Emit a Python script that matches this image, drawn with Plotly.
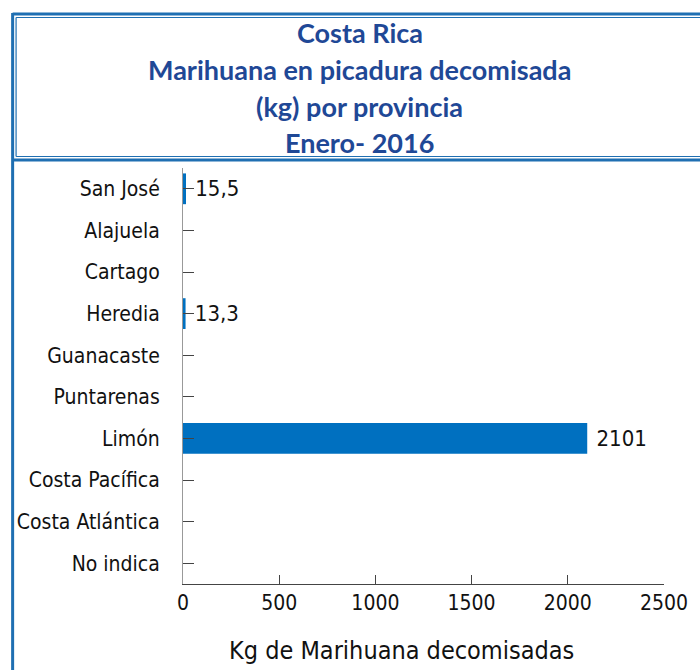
import plotly.graph_objects as go

provincias = ["San José", "Alajuela", "Cartago", "Heredia", "Guanacaste",
              "Puntarenas", "Limón", "Costa Pacífica", "Costa Atlántica", "No indica"]
kilos = [15.5, 0, 0, 13.3, 0, 0, 2101, 0, 0, 0]
etiquetas = ["15,5", "", "", "13,3", "", "", "2101", "", "", ""]
x_ticks = [0, 500, 1000, 1500, 2000, 2500]

W, H = 700, 670
L, R, T, B = 183, 30, 168, 86
PW, PH = W - L - R, H - T - B

def px(x):
    return (x - L) / PW

def py(y):
    return 1 - (y - T) / PH

FONT = "DejaVu Sans Condensed, Liberation Sans Narrow, sans-serif"
TITLE_FONT = "Lato, Open Sans, sans-serif"
BLUE = "#1f6fb2"
TITLE_BLUE = "#1f4896"

fig = go.Figure(go.Bar(
    x=kilos, y=provincias, orientation="h",
    marker=dict(color="#0070c0", line=dict(width=0)),
    text=[(" " + t) if t else "" for t in etiquetas],
    textposition="outside", cliponaxis=False,
    textfont=dict(family=FONT, size=22, color="#111"),
    width=0.74,
))

fig.update_layout(
    width=W, height=H,
    margin=dict(l=L, r=R, t=T, b=B),
    paper_bgcolor="white", plot_bgcolor="white",
    showlegend=False,
    xaxis=dict(range=[0, 2500], tickvals=x_ticks, ticks="inside", ticklen=9,
               tickcolor="#444", tickwidth=1, showline=True, linecolor="#444",
               linewidth=1, showgrid=False, zeroline=False,
               tickfont=dict(family=FONT, size=21, color="#111")),
    yaxis=dict(autorange="reversed", ticks="inside", ticklen=11, tickcolor="#444",
               tickwidth=1, showline=True, linecolor="#999", linewidth=1,
               showgrid=False, ticklabelstandoff=18,
               tickfont=dict(family=FONT, size=21, color="#111")),
)

titles = [("Costa Rica", 33), ("Marihuana en picadura decomisada", 70),
          ("(kg) por provincia", 106), ("Enero- 2016", 142)]
for txt, y in titles:
    fig.add_annotation(text="<b>" + txt + "</b>", xref="paper", yref="paper",
                       x=px(362), y=py(y), xanchor="center", yanchor="middle",
                       showarrow=False, borderpad=0,
                       font=dict(family=TITLE_FONT, size=27, color=TITLE_BLUE))

fig.add_annotation(text="Kg de Marihuana decomisadas", xref="paper", yref="paper",
                   x=px(404), y=py(650), xanchor="center", yanchor="middle",
                   showarrow=False, font=dict(family=FONT, size=25, color="#111"))

shapes = [
    dict(type="line", x0=px(10.5), x1=px(720), y0=py(14), y1=py(14), line=dict(color=BLUE, width=3)),
    dict(type="line", x0=px(10.5), x1=px(10.5), y0=py(13), y1=py(680), line=dict(color=BLUE, width=3)),
    dict(type="line", x0=px(10.5), x1=px(720), y0=py(160), y1=py(160), line=dict(color=BLUE, width=3)),
    dict(type="line", x0=px(14), x1=px(720), y0=py(17.5), y1=py(17.5), line=dict(color=BLUE, width=1.2)),
    dict(type="line", x0=px(14), x1=px(14), y0=py(17.5), y1=py(156.5), line=dict(color=BLUE, width=1.2)),
    dict(type="line", x0=px(14), x1=px(720), y0=py(156.5), y1=py(156.5), line=dict(color=BLUE, width=1.2)),
]
for s in shapes:
    s.update(xref="paper", yref="paper", layer="above")
fig.update_layout(shapes=shapes)

fig.write_html("out.html", config={"displayModeBar": False},
               post_script="document.body.style.margin='0';document.body.style.overflow='hidden';")
